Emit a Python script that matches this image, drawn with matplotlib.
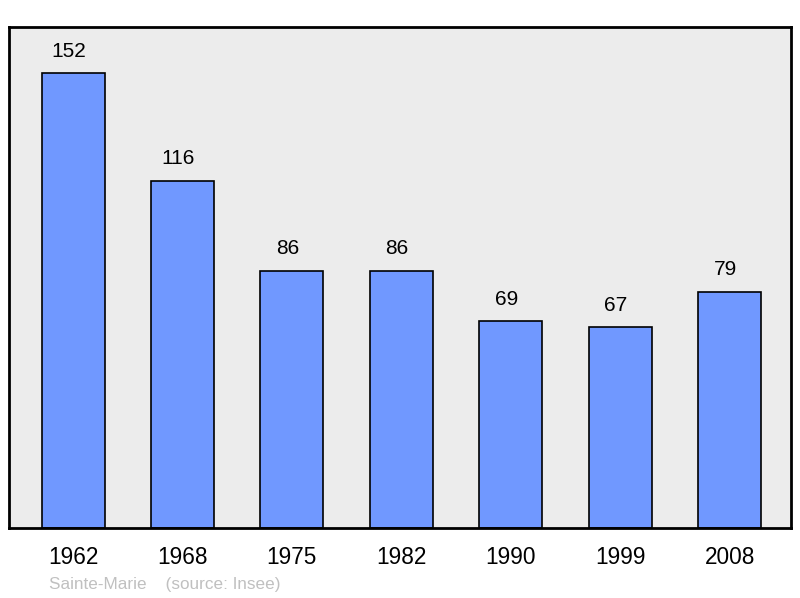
import matplotlib.pyplot as plt

plt.rcParams['font.family'] = ['Liberation Sans', 'DejaVu Sans']

# Population data
years = ['1962', '1968', '1975', '1982', '1990', '1999', '2008']
population = [152, 116, 86, 86, 69, 67, 79]

fig = plt.figure(figsize=(8, 5.98), dpi=100)
ax = fig.add_axes([9 / 800, 1 - 528 / 598, 782 / 800, 501 / 598])
ax.set_facecolor('#ececec')

x = range(len(years))
ax.bar(x, population, width=0.576, color='#7098ff', edgecolor='black',
       linewidth=1.2, zorder=2)

# Value labels above bars (slightly left of centre, as in the original)
for xi, v in zip(x, population):
    ax.annotate(str(v), (xi, v), xytext=(-3, 9), textcoords='offset points',
                ha='center', va='bottom', fontsize=15)

ax.set_xlim(-0.585, 6.56)
ax.set_ylim(0, 167.4)
ax.set_xticks(list(x))
ax.set_xticklabels(years, fontsize=16.3)
ax.tick_params(axis='x', length=0, pad=13)
ax.set_yticks([])
for s in ax.spines.values():
    s.set_linewidth(2)

fig.text(49 / 800, 1 - 584 / 598, 'Sainte-Marie    (source: Insee)',
         color='#c0c0c0', fontsize=12.3, va='center', ha='left')

fig.savefig('out.png', dpi=100)
